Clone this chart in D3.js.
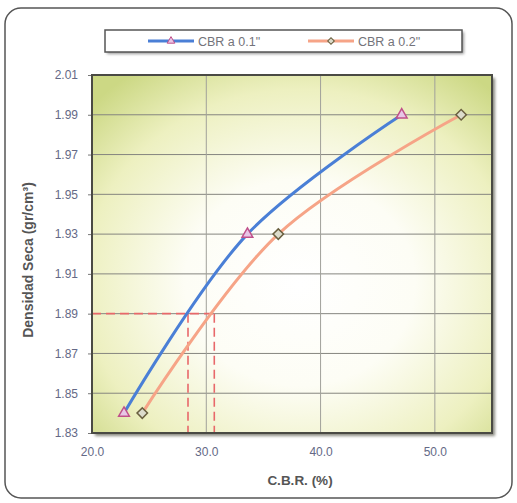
<!DOCTYPE html>
<html>
<head>
<meta charset="utf-8">
<script src="https://cdn.jsdelivr.net/npm/d3@7"></script>
<style>
  html, body { margin: 0; padding: 0; background: #fff; }
  svg { display: block; font-family: "Liberation Sans", Arial, sans-serif; }
</style>
</head>
<body>
<svg id="chart" width="517" height="503"></svg>
<script>
// ---- data ----
const density = [1.84, 1.93, 1.99];
const cbr01 = [22.8, 33.6, 47.1];
const cbr02 = [24.4, 36.3, 52.3];
const seriesNames = ['CBR a 0.1"', 'CBR a 0.2"'];
const xTicks = [20, 30, 40, 50];
const yTicks = [1.83, 1.85, 1.87, 1.89, 1.91, 1.93, 1.95, 1.97, 1.99, 2.01];
const designDensity = 1.89;
const designCbr = [28.4, 30.7];

const svg = d3.select('#chart');
const plot = { left: 92, top: 75, right: 492, bottom: 433 };

const x = d3.scaleLinear().domain([20, 55]).range([plot.left, plot.right]);
const y = d3.scaleLinear().domain([1.83, 2.01]).range([plot.bottom, plot.top]);

const defs = svg.append('defs');
const rg = defs.append('radialGradient').attr('id', 'bg')
  .attr('cx', '52%').attr('cy', '58%').attr('r', '72%');
rg.append('stop').attr('offset', '0%').attr('stop-color', '#ffffff');
rg.append('stop').attr('offset', '40%').attr('stop-color', '#fdfdf5');
rg.append('stop').attr('offset', '75%').attr('stop-color', '#edf0c0');
rg.append('stop').attr('offset', '100%').attr('stop-color', '#ccd884');

const blur = defs.append('filter').attr('id', 'shadow').attr('x', '-5%').attr('y', '-5%').attr('width', '115%').attr('height', '115%');
blur.append('feGaussianBlur').attr('stdDeviation', 1.5);

// outer frame
svg.append('rect').attr('x', 5).attr('y', 8).attr('width', 507).attr('height', 490)
  .attr('rx', 16).attr('ry', 16).attr('fill', '#fff').attr('stroke', '#555').attr('stroke-width', 1.5);

// plot shadow
svg.append('rect').attr('x', plot.left + 3).attr('y', plot.top + 3)
  .attr('width', plot.right - plot.left).attr('height', plot.bottom - plot.top)
  .attr('fill', '#8a8a80').attr('filter', 'url(#shadow)');
// plot background
svg.append('rect').attr('x', plot.left).attr('y', plot.top)
  .attr('width', plot.right - plot.left).attr('height', plot.bottom - plot.top)
  .attr('fill', 'url(#bg)');

// gridlines
const g = svg.append('g');
g.selectAll('.hg').data(yTicks).join('line')
  .attr('x1', plot.left).attr('x2', plot.right)
  .attr('y1', d => y(d)).attr('y2', d => y(d))
  .attr('stroke', '#85857f').attr('stroke-width', 1);
g.selectAll('.vg').data(xTicks.slice(1)).join('line')
  .attr('x1', d => x(d)).attr('x2', d => x(d))
  .attr('y1', plot.top).attr('y2', plot.bottom)
  .attr('stroke', '#a0a09a').attr('stroke-width', 1);

// axes labels via d3 axes
const yAxis = d3.axisLeft(y).tickValues(yTicks).tickFormat(d3.format('.2f')).tickSize(4).tickPadding(10);
const ya = svg.append('g').attr('transform', `translate(${plot.left},0)`).call(yAxis);
const xAxis = d3.axisBottom(x).tickValues(xTicks).tickFormat(d3.format('.1f')).tickSize(0).tickPadding(14);
const xa = svg.append('g').attr('transform', `translate(0,${plot.bottom})`).call(xAxis);
[ya, xa].forEach(a => {
  a.select('.domain').remove();
  a.selectAll('line').attr('stroke', '#777');
  a.selectAll('text').attr('fill', '#646986').attr('font-size', 12)
    .attr('font-family', '"Liberation Sans", Arial, sans-serif');
});

// design dashed lines
const dash = svg.append('g').attr('stroke', '#e8686a').attr('stroke-width', 1.6)
  .attr('stroke-dasharray', '9,5').attr('fill', 'none');
dash.append('line').attr('x1', plot.left).attr('x2', x(d3.max(designCbr)))
  .attr('y1', y(designDensity)).attr('y2', y(designDensity));
dash.selectAll('.vd').data(designCbr).join('line')
  .attr('x1', d => x(d)).attr('x2', d => x(d))
  .attr('y1', y(designDensity)).attr('y2', plot.bottom);

// curves
const line = d3.line().curve(d3.curveCatmullRom.alpha(0.5));
const s1 = density.map((d, i) => [x(cbr01[i]), y(d)]);
const s2 = density.map((d, i) => [x(cbr02[i]), y(d)]);
svg.append('path').attr('d', line(s2)).attr('fill', 'none').attr('stroke', '#f6a487').attr('stroke-width', 3);
svg.append('path').attr('d', line(s1)).attr('fill', 'none').attr('stroke', '#4a7fd6').attr('stroke-width', 3);

const tri = d3.symbol().type(d3.symbolTriangle).size(50);
svg.selectAll('.t').data(s1).join('path').attr('d', tri)
  .attr('transform', d => `translate(${d[0]},${d[1]})`)
  .attr('fill', '#e8c6e6').attr('stroke', '#c0508a').attr('stroke-width', 1.5);
svg.selectAll('.dm').data(s2).join('path').attr('d', d3.symbol().type(d3.symbolSquare).size(55))
  .attr('transform', d => `translate(${d[0]},${d[1]}) rotate(45)`)
  .attr('fill', '#dcdccc').attr('stroke', '#6a6040').attr('stroke-width', 1.5);

// plot border
svg.append('rect').attr('x', plot.left).attr('y', plot.top)
  .attr('width', plot.right - plot.left).attr('height', plot.bottom - plot.top)
  .attr('fill', 'none').attr('stroke', '#4a4a44').attr('stroke-width', 2);

// legend
const lg = svg.append('g');
lg.append('rect').attr('x', 107).attr('y', 32).attr('width', 357).attr('height', 22)
  .attr('fill', '#999').attr('filter', 'url(#shadow)');
lg.append('rect').attr('x', 105).attr('y', 30).attr('width', 357).attr('height', 22)
  .attr('fill', '#fff').attr('stroke', '#555').attr('stroke-width', 1.5);
const legendItems = [
  { name: seriesNames[0], color: '#4a7fd6', x0: 148, tx: 198, marker: 'tri' },
  { name: seriesNames[1], color: '#f6a487', x0: 308, tx: 358, marker: 'dia' }
];
legendItems.forEach(it => {
  lg.append('line').attr('x1', it.x0).attr('x2', it.x0 + 46).attr('y1', 41).attr('y2', 41)
    .attr('stroke', it.color).attr('stroke-width', 3);
  if (it.marker === 'tri') {
    lg.append('path').attr('d', d3.symbol().type(d3.symbolTriangle).size(25))
      .attr('transform', `translate(${it.x0 + 23},41)`)
      .attr('fill', '#e8c6e6').attr('stroke', '#c0508a').attr('stroke-width', 1);
  } else {
    lg.append('path').attr('d', d3.symbol().type(d3.symbolSquare).size(22))
      .attr('transform', `translate(${it.x0 + 23},41) rotate(45)`)
      .attr('fill', '#dcdccc').attr('stroke', '#6a6040').attr('stroke-width', 1);
  }
  lg.append('text').attr('x', it.tx).attr('y', 45.5).text(it.name)
    .attr('font-size', 12.5).attr('fill', '#73737a');
});

// axis titles
svg.append('text').attr('transform', `translate(33,${(plot.top + plot.bottom) / 2 + 6}) rotate(-90)`)
  .attr('text-anchor', 'middle').attr('font-weight', 'bold').attr('font-size', 14).attr('fill', '#555')
  .text('Densidad Seca (gr/cm³)');
svg.append('text').attr('x', 300).attr('y', 485).attr('text-anchor', 'middle')
  .attr('font-weight', 'bold').attr('font-size', 13.5).attr('fill', '#555').text('C.B.R. (%)');
</script>
</body>
</html>
